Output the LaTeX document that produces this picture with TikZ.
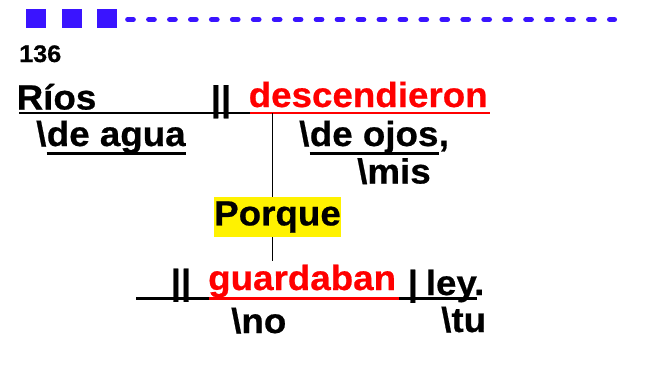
\documentclass[tikz,border=0pt]{standalone}
\usepackage{fontspec}
\setmainfont{Liberation Sans}
\newfontfamily\diagfont{Liberation Sans Bold}[FakeStretch=1.05,FakeBold=0.6]
\definecolor{hdrblue}{RGB}{58,20,255}
\begin{document}
\begin{tikzpicture}[x=1pt,y=-1pt,
  word/.style={inner sep=0pt,anchor=base west,font=\diagfont\fontsize{35}{40}\selectfont},
  verb/.style={word,text=red},
  uline/.style={line width=2.4pt},
  stem/.style={line width=0.8pt},
  sq/.style={fill=hdrblue,minimum width=20pt,minimum height=19pt,inner sep=0pt}]
\useasboundingbox (0,0) rectangle (645,378);

\node[sq] (sqa) at (36,18.5) {};
\node[sq] (sqb) at (71.5,18.5) {};
\node[sq] (sqc) at (107,18.5) {};
\coordinate (dashend) at (614.4,19.5);
\draw[hdrblue,line width=5.3pt,line cap=round,dash pattern=on 5.4pt off 15.55pt] ([xshift=10.6pt,yshift=-1pt]sqc.east) -- (dashend);

\node[word,font=\diagfont\fontsize{24}{28}\selectfont] (num) at (19,62) {136};

\node[word] (rios) at (16.5,109.5) {Ríos};
\node[word] (topbars) at (210.5,110.5) {||};
\node[verb] (descend) at (248.5,107) {descendieron};
\coordinate (topl) at (19,113);
\coordinate (topm) at (250,113);
\coordinate (topr) at (490,113);
\draw[uline] (topl) -- (topm);
\draw[uline,red] (topm) -- (topr);

\node[word] (bsa) at (36,146) {\textbackslash};
\node[word] (deagua) at (bsa.base east) {de agua};
\draw[uline] ([yshift=-7.5pt]deagua.base west) -- ([yshift=-7.5pt]deagua.base east);

\node[word] (bsb) at (299,146) {\textbackslash};
\node[word] (deojos) at (bsb.base east) {de ojos};
\node[word] (comma) at (deojos.base east) {,};
\draw[uline] ([yshift=-7.5pt]deojos.base west) -- ([yshift=-7.5pt]deojos.base east);
\node[word] (mis) at (357,183.5) {\textbackslash mis};

\coordinate (stemtop) at (272,113);
\node[fill=yellow,minimum width=127pt,minimum height=40pt,inner sep=0pt,
  font=\diagfont\fontsize{35}{40}\selectfont] (porque) at (277.5,217) {Porque};
\coordinate (stembot) at (272,261);
\draw[stem] (stemtop) -- (stemtop |- porque.north);
\draw[stem] (stembot |- porque.south) -- (stembot);

\node[word] (botbars) at (170.5,294) {||};
\node[verb] (guard) at (208,290) {guardaban};
\node[word] (onebar) at (407.5,295) {|};
\node[word] (ley) at (425.6,295) {ley.};
\coordinate (botl) at (136,298.5);
\coordinate (botm) at (209,298.5);
\coordinate (botn) at (399,298.5);
\coordinate (botr) at (477,298.5);
\draw[uline] (botl) -- (botm);
\draw[uline,red] (botm) -- (botn);
\draw[uline] (botn) -- (botr);

\node[word] (no) at (231,333) {\textbackslash no};
\node[word] (tu) at (441,332) {\textbackslash tu};
\end{tikzpicture}
\end{document}
